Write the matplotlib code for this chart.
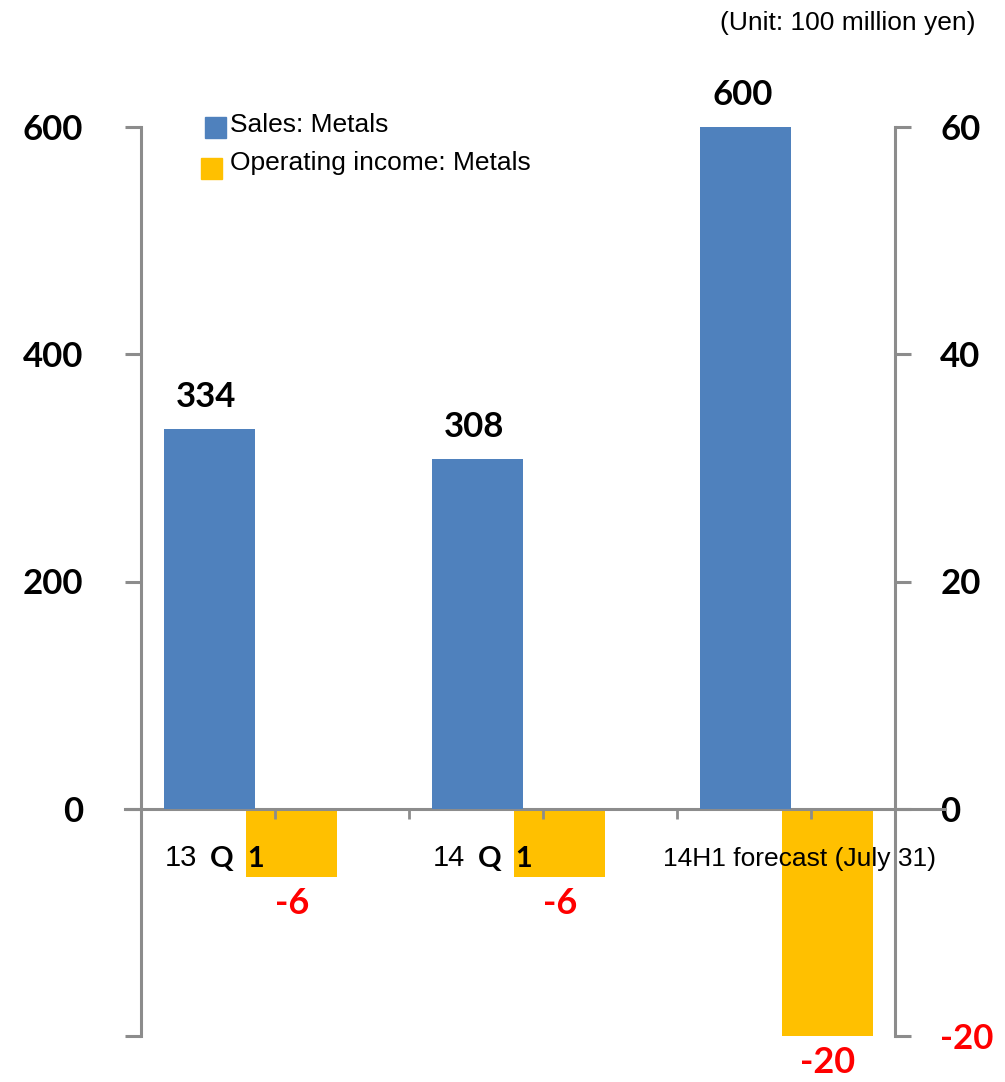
import matplotlib
matplotlib.use("Agg")
import matplotlib.pyplot as plt
from matplotlib.patches import Rectangle

# Sales and operating income for the metals segment (100 million yen)
periods = ["13", "14", "14H1 forecast (July 31)"]
period_suffix = ["Q  1", "Q  1", ""]
sales = [334, 308, 600]
op_income = [-6, -6, -20]

sales_ticks = [-200, 0, 200, 400, 600]
income_ticks = [-20, 0, 20, 40, 60]

BLUE = "#4F81BD"
ORANGE = "#FFC000"
GRAY = "#8C8C8C"
RED = "#FF0000"

W, H = 1005, 1082


def fx(px):
    return px / W


def fy(py):
    return 1 - py / H


fig = plt.figure(figsize=(W / 100, H / 100), dpi=100)
ax = fig.add_axes([fx(141), fy(1036), fx(754), 909 / H])
ax2 = ax.twinx()
# keep the sales axis (and its texts) in front of the income bars
ax.set_zorder(ax2.get_zorder() + 1)
ax.patch.set_visible(False)

n = len(sales)
xs = list(range(n))
bar_w = 0.34

# primary axis: sales bars
ax.bar([x + 0.254 for x in xs], sales, width=bar_w, color=BLUE, zorder=2)
ax.set_xlim(0, 754 / 268)
ax.set_ylim(-200, 600)

# secondary axis: operating income bars
ax2.bar([x + 0.563 for x in xs], op_income, width=bar_w, color=ORANGE, zorder=2)
ax2.set_ylim(-20, 60)

num_font = dict(family=["Lato", "DejaVu Sans"], fontsize=25, fontweight="bold")
txt_font = dict(family=["Liberation Sans", "DejaVu Sans"], fontsize=19)

# spines
for s in ["top", "right", "bottom"]:
    ax.spines[s].set_visible(False)
for s in ["top", "left", "bottom"]:
    ax2.spines[s].set_visible(False)
ax.spines["left"].set_color(GRAY)
ax.spines["left"].set_linewidth(2.2)
ax2.spines["right"].set_color(GRAY)
ax2.spines["right"].set_linewidth(2.2)

# zero line (category axis), running a bit past both value axes
ax.plot([-16 / 754, 804 / 754], [0, 0], transform=ax.get_yaxis_transform(),
        color=GRAY, lw=2.2, clip_on=False, zorder=1)

# y ticks
ax.set_yticks(sales_ticks)
ax.set_yticklabels([""] + [str(v) for v in sales_ticks[1:]], **num_font)
ax.tick_params(axis="y", direction="out", length=11.5, width=2.2, color=GRAY, pad=30)

ax2.set_yticks(income_ticks)
ax2.set_yticklabels([str(v) for v in income_ticks], **num_font)
ax2.tick_params(axis="y", direction="out", length=11.5, width=2.2, color=GRAY, pad=21)
for lbl, v in zip(ax2.get_yticklabels(), income_ticks):
    if v < 0:
        lbl.set_color(RED)

# small category ticks hanging from the zero line
ax.spines["bottom"].set_position(("data", 0))
ax.set_xticks([0.5, 1.0, 1.5, 2.0, 2.5])
ax.set_xticklabels([])
ax.tick_params(axis="x", direction="out", length=7, width=2, color=GRAY)

# value labels
for x, v in zip(xs, sales):
    ax.annotate(str(v), xy=(x + 0.254, v), xytext=(-2, 16), textcoords="offset points",
                ha="center", va="baseline", color="black", **num_font)
for x, v in zip(xs, op_income):
    ax2.annotate(str(v), xy=(x + 0.563, v), xytext=(0, -7), textcoords="offset points",
                 ha="center", va="top", color=RED,
                 family=["Lato", "DejaVu Sans"], fontsize=26, fontweight="bold")

# category labels
label_left = [0.09, 0.09, -0.052]
for x, name, suffix, dx in zip(xs, periods, period_suffix, label_left):
    size = 21 if suffix else 19
    t = ax.annotate(name, xy=(x + dx, 0), xytext=(0, -41), textcoords="offset points",
                    ha="left", va="baseline", zorder=5,
                    family=["Liberation Sans", "DejaVu Sans"], fontsize=size)
    if suffix:
        ax.annotate(suffix, xy=(1, 0), xycoords=t, xytext=(9, 0),
                    textcoords="offset points", ha="left", va="bottom", zorder=5,
                    family=["Lato", "DejaVu Sans"], fontsize=21, fontweight="bold")

# legend
legend_items = [("Sales: Metals", BLUE, 205, 117, 132),
                ("Operating income: Metals", ORANGE, 201, 158, 170)]
for label, color, px, py, base in legend_items:
    fig.add_artist(Rectangle((fx(px), fy(py + 21)), 21 / W, 21 / H,
                             transform=fig.transFigure, color=color))
    fig.text(fx(230), fy(base), label, ha="left", va="baseline", **txt_font)

fig.text(fx(975), fy(30), "(Unit: 100 million yen)", ha="right", va="baseline", **txt_font)

fig.savefig("out.png", dpi=100)
